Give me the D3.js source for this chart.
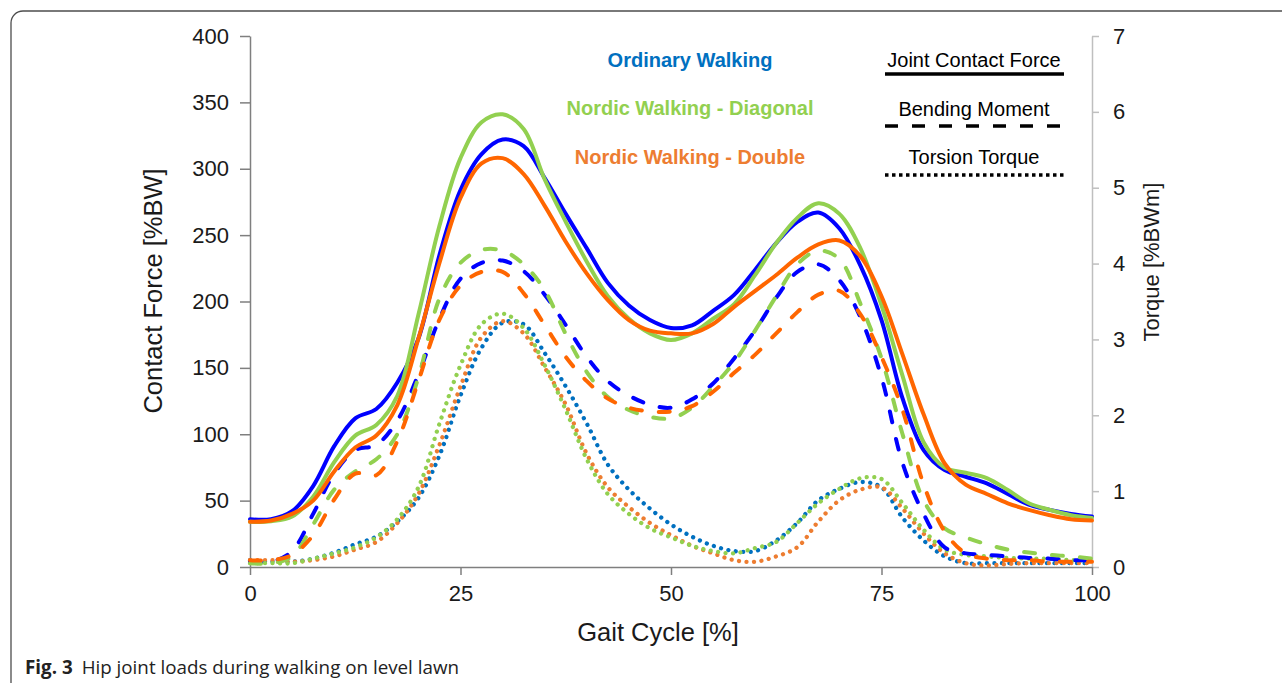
<!DOCTYPE html>
<html>
<head>
<meta charset="utf-8">
<script src="https://cdn.jsdelivr.net/npm/d3@7"></script>
<style>
  html, body { margin: 0; padding: 0; background: #fff; }
  svg { display: block; }
</style>
</head>
<body>
<svg id="chart" width="1282" height="683"></svg>
<script>
// ---------------- DATA ----------------
const gaitCycle = [0,2.5,5,7.5,10,12.5,15,17.5,20,22.5,25,27.5,30,32.5,35,37.5,40,42.5,45,47.5,50,
                   52.5,55,57.5,60,62.5,65,67.5,70,72.5,75,77.5,80,82.5,85,87.5,90,92.5,95,97.5,100];

// Joint contact force [%BW] (left axis)
const forceOrdinary = [36,36,42,61,91,112,119,139,172,235,284,311,322,317,293,266,240,214,197,186,180,
                       182,193,205,224,244,260,267,255,227,186,127,88,73,68,63,55,47,43,40,38];
const forceDiagonal = [34,34.5,38,53,79,99,107,129,190,257,308,335,341,330,292,260,230,204,187,176,171,
                       176,187,198,220,244,263,274,266,240,197,144,94,75,71,67,58,48,43,39,37];
const forceDouble   = [34,35,40,50,72,90,99,122,172,229,278,304,308,296,272,245,221,201,186,178,176,
                       176,183,196,208,220,233,243,246,234,204,160,115,78,62,55,48,43,39,36,35];

// Bending moment [%BWm] (right axis)
const bendOrdinary = [0.07,0.07,0.21,0.70,1.23,1.54,1.61,1.93,2.54,3.27,3.80,4.01,4.04,3.90,3.59,3.19,2.77,2.45,2.26,2.14,2.10,
                      2.21,2.42,2.75,3.12,3.55,3.89,3.99,3.78,3.29,2.50,1.37,0.70,0.26,0.18,0.16,0.14,0.12,0.11,0.09,0.09];
const bendDiagonal = [0.05,0.05,0.14,0.56,1.02,1.26,1.42,1.75,2.50,3.54,4.01,4.18,4.17,3.99,3.65,3.07,2.57,2.24,2.07,1.98,1.96,
                      2.10,2.38,2.70,3.12,3.57,3.99,4.17,4.06,3.47,2.75,1.75,0.88,0.51,0.39,0.30,0.23,0.19,0.16,0.14,0.11];
const bendDouble   = [0.09,0.09,0.16,0.42,0.89,1.23,1.21,1.66,2.45,3.26,3.71,3.89,3.89,3.61,3.19,2.77,2.45,2.22,2.10,2.05,2.05,
                      2.12,2.31,2.56,2.80,3.08,3.36,3.59,3.64,3.33,2.77,2.07,1.09,0.47,0.18,0.11,0.09,0.09,0.07,0.07,0.07];

// Torsion torque [%BWm] (right axis)
const torsOrdinary = [0.09,0.07,0.07,0.11,0.19,0.30,0.40,0.60,0.91,1.47,2.26,2.89,3.22,3.20,2.82,2.38,1.89,1.35,1.02,0.77,0.56,
                      0.40,0.28,0.21,0.21,0.35,0.58,0.88,1.03,1.12,1.05,0.65,0.35,0.14,0.05,0.05,0.05,0.05,0.05,0.05,0.05];
const torsDiagonal = [0.05,0.05,0.05,0.11,0.18,0.26,0.39,0.63,1.05,1.89,2.66,3.20,3.34,3.15,2.66,2.07,1.42,0.96,0.70,0.51,0.39,
                      0.28,0.21,0.18,0.25,0.33,0.58,0.84,1.03,1.17,1.16,0.84,0.49,0.23,0.16,0.14,0.12,0.11,0.11,0.09,0.09];
const torsDouble   = [0.09,0.09,0.07,0.09,0.14,0.23,0.33,0.58,0.96,1.61,2.38,3.03,3.24,3.08,2.63,2.14,1.49,1.05,0.79,0.58,0.42,
                      0.28,0.18,0.09,0.07,0.14,0.26,0.60,0.88,1.02,1.05,0.77,0.44,0.18,0.05,0.02,0.04,0.05,0.05,0.05,0.05];

const xTicks = [0,25,50,75,100];
const leftTicks = [0,50,100,150,200,250,300,350,400];
const rightTicks = [0,1,2,3,4,5,6,7];

const groupNames = ["Ordinary Walking","Nordic Walking - Diagonal","Nordic Walking - Double"];
const typeNames = ["Joint Contact Force","Bending Moment","Torsion Torque"];

// ---------------- CHART ----------------
const svg = d3.select("#chart");
const FONT = '"Liberation Sans", Arial, sans-serif';

const x = d3.scaleLinear().domain([0,100]).range([250,1092]);
const yL = d3.scaleLinear().domain([0,400]).range([567,36]);
const yR = d3.scaleLinear().domain([0,7]).range([567,36]);

// frame
svg.append("rect").attr("x",11).attr("y",11).attr("width",1320).attr("height",720)
   .attr("rx",12).attr("fill","none").attr("stroke","#4d4d4d").attr("stroke-width",1.3);

const colSolid = {o:"#0000ff", d:"#92d050", b:"#ff6600"};
const colDot = {o:"#0070c0", d:"#92d050", b:"#ed7d31"};

const styles = {
  solid: {w:4, dash:null, cap:"round"},
  dash:  {w:4, dash:"11 17", cap:"round"},
  dot:   {w:4.3, dash:"0.01 7.5", cap:"round"}
};

function drawSeries(values, scale, color, st){
  const line = d3.line()
    .x((d,i)=>x(gaitCycle[i]))
    .y(d=>scale(d))
    .curve(d3.curveCatmullRom.alpha(0.5));
  svg.append("path").datum(values)
    .attr("d", line)
    .attr("fill","none")
    .attr("stroke", color)
    .attr("stroke-width", st.w)
    .attr("stroke-linecap", st.cap)
    .attr("stroke-linejoin","round")
    .attr("stroke-dasharray", st.dash);
}

// axes
const axL = svg.append("g").attr("transform","translate(250,0)")
  .call(d3.axisLeft(yL).tickValues(leftTicks).tickSize(10).tickSizeOuter(0).tickPadding(11));
const axR = svg.append("g").attr("transform","translate(1092,0)")
  .call(d3.axisRight(yR).tickValues(rightTicks).tickFormat(d3.format("d")).tickSize(7).tickSizeOuter(0).tickPadding(14));
const axB = svg.append("g").attr("transform","translate(0,567)")
  .call(d3.axisBottom(x).tickValues(xTicks).tickSize(8).tickSizeOuter(0).tickPadding(10));

[axL, axB].forEach(g=>{
  g.select(".domain").attr("stroke","#7f7f7f").attr("stroke-width",1.5);
  g.selectAll(".tick line").attr("stroke","#7f7f7f").attr("stroke-width",1.5);
  g.selectAll(".tick text").attr("font-size",22).attr("fill","#1a1a1a").attr("font-family",FONT);
});
axR.select(".domain").attr("stroke","#bfbfbf").attr("stroke-width",1.5);
axR.selectAll(".tick line").attr("stroke","#bfbfbf").attr("stroke-width",1.5);
axR.selectAll(".tick text").attr("font-size",22).attr("fill","#1a1a1a").attr("font-family",FONT);

// series: dotted, dashed, solid
drawSeries(torsOrdinary, yR, colDot.o, styles.dot);
drawSeries(torsDouble, yR, colDot.b, styles.dot);
drawSeries(torsDiagonal, yR, colDot.d, styles.dot);
drawSeries(bendOrdinary, yR, colSolid.o, styles.dash);
drawSeries(bendDiagonal, yR, colSolid.d, styles.dash);
drawSeries(bendDouble, yR, colSolid.b, styles.dash);
drawSeries(forceOrdinary, yL, colSolid.o, styles.solid);
drawSeries(forceDiagonal, yL, colSolid.d, styles.solid);
drawSeries(forceDouble, yL, colSolid.b, styles.solid);

// axis titles
svg.append("text").attr("transform","translate(162,291) rotate(-90)")
  .attr("text-anchor","middle").attr("font-family",FONT).attr("font-size",25.5).attr("fill","#1a1a1a")
  .text("Contact  Force [%BW]");
svg.append("text").attr("transform","translate(1159,262) rotate(-90)")
  .attr("text-anchor","middle").attr("font-family",FONT).attr("font-size",22).attr("fill","#1a1a1a")
  .text("Torque [%BWm]");
svg.append("text").attr("x",658).attr("y",641)
  .attr("text-anchor","middle").attr("font-family",FONT).attr("font-size",25.5).attr("fill","#1a1a1a")
  .text("Gait Cycle [%]");

// legend: groups (coloured text)
const groupCols = ["#0070c0","#92d050","#ed7d31"];
const legY = [67,115,164];
groupNames.forEach((n,i)=>{
  svg.append("text").attr("x",690).attr("y",legY[i]).attr("text-anchor","middle")
    .attr("font-family",FONT).attr("font-weight","bold").attr("font-size",20)
    .attr("fill",groupCols[i]).text(n);
});
// legend: line types
const typeDash = [null,"13 14","3.5 3.5"];
const typeLineY = [74,126,175];
const typeTextY = [67,116,164];
typeNames.forEach((n,i)=>{
  svg.append("text").attr("x",974).attr("y",typeTextY[i]).attr("text-anchor","middle")
    .attr("font-family",FONT).attr("font-size",20).attr("fill","#000").text(n);
  svg.append("line").attr("x1",885).attr("x2",1064).attr("y1",typeLineY[i]).attr("y2",typeLineY[i])
    .attr("stroke","#000").attr("stroke-width",3.5).attr("stroke-dasharray",typeDash[i]);
});

// caption
const cap = svg.append("text").attr("x",25).attr("y",674)
  .attr("font-family",'"Open Sans", "Noto Sans", sans-serif').attr("font-size",18.8).attr("fill","#222");
cap.append("tspan").attr("font-weight","bold").text("Fig. 3");
cap.append("tspan").attr("dx",9).text("Hip joint loads during walking on level lawn");
</script>
</body>
</html>
